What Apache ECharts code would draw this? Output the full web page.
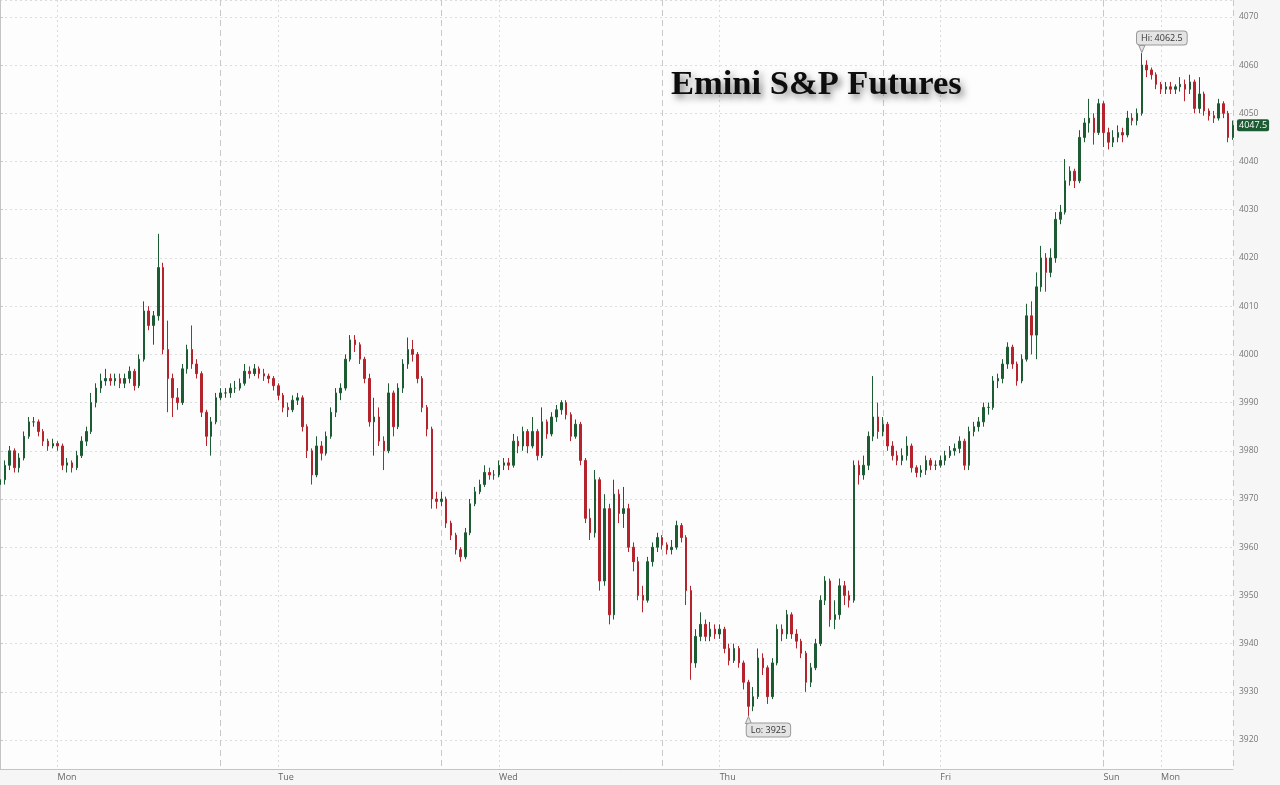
<!DOCTYPE html>
<html>
<head>
<meta charset="utf-8">
<script src="https://cdn.jsdelivr.net/npm/echarts@6/dist/echarts.min.js"></script>
<style>
html,body{margin:0;padding:0;background:#f6f6f6;}
#chart{width:1280px;height:785px;}
</style>
</head>
<body>
<div id="chart"></div>
<script>
// 30-minute candles, session starts (6pm) every 46 candles
const tickIdx = [12, 58, 104, 150, 196, 230, 242];
const tickNames = ['Mon', 'Tue', 'Wed', 'Thu', 'Fri', 'Sun', 'Mon'];
const sessionLength = 46;

const opens = [3973,
3974,3977,3980,3976.5,3978.5,3983,3986,3986,3984,3982,
3981,3981.5,3981,3977,3977.5,3976.5,3979,3982,3984,3990,
3993,3994.5,3995,3994.5,3995,3994,3995,3996.5,3993.5,3999,
4009,4006,4008,4018,4001,3995,3991,3990,3997,4001,
3998,3996,3988,3983,3986,3991,
3992,3992,3993,3993,3994,3996.5,3996,3997,3996,3995.5,
3995,3993.5,3991.5,3989,3988.5,3990.5,3991,3985,3980,3975,
3981,3979.5,3983,3988,3992,3993,3999,4003,4002,3999,
3995,3986,3987,3982,3980,3992,3985,3993,3998,4001,
4000,3995,3989,3984.5,3970,3969.5,
3970,3965,3962.5,3959.5,3958,3963,3969,3971.5,3973,3975.5,
3975,3975,3977,3977.5,3977,3982,3981,3984,3981,3984,
3979,3986,3983.5,3987,3988.5,3990,3987.5,3983,3985.5,3978,
3966,3963,3974,3953,3968,3946,3971,3967,3968,3960,
3957,3950,3949,3957,3960,3962,
3960.5,3959.5,3960,3964.5,3962,3951,3936,3941.5,3944,3941.5,
3943,3942,3943,3939,3936.5,3939,3936,3932,3927,3929,
3937,3935,3929,3936,3943,3942,3946,3942,3940.5,3938,
3932,3935,3940,3949,3953,3945,3946,3952,3950,3949,
3977,3975,3977,3983,3987,3984,
3985.5,3981,3979,3978,3979,3981,3976.5,3975.5,3976,3978,
3977,3977,3978,3979,3980,3980.5,3982,3977,3984,3985,
3986,3989,3989,3994.5,3995,3998,4001.5,3998,3994.5,3999,
4008,4004,4014,4020,4017,4020,4028,4029.5,4036,4038,
4036,4045,4048,4049,4046,4052,
4046,4044,4045,4046,4045.5,4049,4048.5,4050,4060,4059,
4058,4056,4055,4055.5,4055,4055.5,4056,4055,4056.5,4051,
4054,4050.5,4049.5,4049,4052,4050,4045];

const closes = [
3974,3977,3980,3976.5,3978.5,3983,3986,3986,3984,3982,
3981,3981.5,3981,3977,3977.5,3976.5,3979,3982,3984,3990,
3993,3994.5,3995,3994.5,3995,3994,3995,3996.5,3993.5,3999,
4009,4006,4008,4018,4001,3995,3991,3990,3997,4001,
3998,3996,3988,3983,3986,3991,
3992,3992,3993,3993,3994,3996.5,3996,3997,3996,3995.5,
3995,3993.5,3991.5,3989,3988.5,3990.5,3991,3985,3980,3975,
3981,3979.5,3983,3988,3992,3993,3999,4003,4002,3999,
3995,3986,3987,3982,3980,3992,3985,3993,3998,4001,
4000,3995,3989,3984.5,3970,3969.5,
3970,3965,3962.5,3959.5,3958,3963,3969,3971.5,3973,3975.5,
3975,3975,3977,3977.5,3977,3982,3981,3984,3981,3984,
3979,3986,3983.5,3987,3988.5,3990,3987.5,3983,3985.5,3978,
3966,3963,3974,3953,3968,3946,3971,3967,3968,3960,
3957,3950,3949,3957,3960,3962,
3960.5,3959.5,3960,3964.5,3962,3951,3936,3941.5,3944,3941.5,
3943,3942,3943,3939,3936.5,3939,3936,3932,3927,3929,
3937,3935,3929,3936,3943,3942,3946,3942,3940.5,3938,
3932,3935,3940,3949,3953,3945,3946,3952,3950,3949,
3977,3975,3977,3983,3987,3984,
3985.5,3981,3979,3978,3979,3981,3976.5,3975.5,3976,3978,
3977,3977,3978,3979,3980,3980.5,3982,3977,3984,3985,
3986,3989,3989,3994.5,3995,3998,4001.5,3998,3994.5,3999,
4008,4004,4014,4020,4017,4020,4028,4029.5,4036,4038,
4036,4045,4048,4049,4046,4052,
4046,4044,4045,4046,4045.5,4049,4048.5,4050,4060,4059,
4058,4056,4055,4055.5,4055,4055.5,4056,4055,4056.5,4051,
4054,4050.5,4049.5,4049,4052,4050,4045,4047.5];

const lows = [
3971.5,3973,3976,3975.5,3975.5,3978,3982.5,3985,3983,3981,
3980,3980.5,3980,3976,3975.5,3975.5,3976,3978.5,3981,3983.5,
3989,3992,3993.5,3993.5,3993.5,3993,3993,3994,3992.5,3993,
3998.5,4005,4002,4007,4000,3988,3987,3988.5,3989.5,3996,
3997,3995,3987,3981,3979,3985.5,
3990.5,3991,3991,3992,3992.5,3993.5,3995,3995.5,3995,3994.5,
3994,3992.5,3990.5,3988,3987,3988,3989.5,3984,3978.5,3973,
3974.5,3978,3979,3982.5,3987,3990.5,3992.5,3998.5,4000.5,3998,
3994,3985,3979,3981,3976,3979.5,3983,3984.5,3992,3997,
3998.5,3994,3988,3983,3968,3968,
3968.5,3964,3961.5,3958.5,3957,3957.5,3962.5,3968.5,3971,3972.5,
3974,3974,3974.5,3976,3976,3976.5,3979.5,3980,3979.5,3980.5,
3978,3978.5,3982.5,3983,3986,3987.5,3986.5,3982,3982.5,3977,
3965,3961.5,3962,3951,3952,3944,3945,3965,3964,3959,
3955,3949,3946.5,3948.5,3956,3959,
3959.5,3958.5,3958.5,3959.5,3961,3948,3932.5,3935,3940.5,3940.5,
3940.5,3941,3941,3938,3935.5,3936,3935,3930.5,3925,3926,
3928.5,3933.5,3927.5,3928.5,3935.5,3940.5,3941,3941,3939,3937,
3930,3931,3934.5,3939.5,3948,3943.5,3943,3945,3948,3947.5,
3948.5,3973,3974,3976,3982,3982.5,
3983,3980,3978,3977,3977,3978,3975.5,3974.5,3974.5,3975,
3976,3976,3976.5,3977,3978.5,3979,3979.5,3976,3976,3983,
3984,3985,3987.5,3988.5,3993,3994,3997,3997,3993.5,3994,
3998.5,4000,3999,4013,4013,4016,4019,4027,4029,4035,
4034.5,4035.5,4044,4046,4043.5,4045.5,
4043,4042.5,4043,4044,4044,4045,4047.5,4047.5,4049.5,4057.5,
4057,4055,4054,4054,4054,4054,4054.5,4052.5,4054,4050,
4050,4049.5,4048.5,4048,4048.5,4049,4044,4044.5];

const highs = [
3975,3978,3981,3980.5,3979.5,3984,3987,3987,3986.5,3984.5,
3982.5,3982.5,3982,3981.5,3978.5,3978,3980,3983,3985,3992,
3994,3996,3997,3996,3996,3996,3996,3997.5,3997,4000,
4011,4010,4009,4025,4019,4007,3996,3993,3998,4002,
4006,3999,3996.5,3988.5,3987,3992,
3993,3993,3994,3994.5,3995,3998,3997.5,3998,3997.5,3997,
3996,3995.5,3994,3992,3990,3991.5,3992,3991.5,3985.5,3980.5,
3983,3982,3984,3989,3993,3994,4000,4004,4004,4002.5,
3999.5,3996,3991,3989,3983,3994,3992.5,3994,3999,4003.5,
4003,4000.5,3995.5,3989.5,3985,3971.5,
3971.5,3970.5,3965.5,3963,3960,3964,3970,3972.5,3974,3977,
3976.5,3976,3978,3978.5,3978.5,3983.5,3983,3985,3984.5,3987,
3984.5,3989,3986.5,3988,3989.5,3990.5,3990.5,3988,3986.5,3986,
3978.5,3968,3976,3974.5,3971,3969,3974,3972,3972.5,3969,
3961,3958,3952,3958,3961,3963,
3962.5,3961,3961.5,3965.5,3965,3962.5,3952,3943,3946.5,3945,
3944.5,3944,3944,3943.5,3940,3940,3939.5,3936.5,3932.5,3931,
3939,3938,3935.5,3937,3944,3944,3947,3946.5,3943,3941,
3938.5,3936,3941,3950,3954,3953.5,3949,3953.5,3953,3951,
3978,3978,3979,3984,3995.5,3990,
3987,3986,3982,3980,3980.5,3983,3981.5,3977,3977,3979,
3978.5,3978,3979,3980,3981,3981.5,3983,3982.5,3985,3986,
3987,3990,3990,3995.5,3996,3999,4002.5,4002,3998.5,4000,
4010.5,4011,4017,4022.5,4021,4022,4029.5,4031,4040.5,4039,
4038.5,4046.5,4049,4053,4050,4053,
4052.5,4047,4046.5,4047.5,4047,4050.5,4050,4051,4062.5,4061,
4059.5,4058.5,4056.5,4056.5,4056.5,4056,4057.5,4057,4058,4057,
4057.5,4054.5,4051,4050.5,4053,4052.5,4050.5,4048.5];

const yMin = 3914, yMax = 4073.5;

const categories = closes.map((_, i) => String(i));
const candles = closes.map((c, i) => [opens[i], c, lows[i], highs[i]]);
const lastClose = closes[closes.length - 1];

const UP = '#1d5c33', DOWN = '#b5242c';
const labelFont = 'Open Sans';

const chart = echarts.init(document.getElementById('chart'), null, {renderer: 'canvas'});
chart.setOption({
  animation: false,
  backgroundColor: '#f6f6f6',
  title: {
    text: 'Emini S&P Futures',
    left: 666, top: 63,
    textStyle: {
      fontFamily: 'Liberation Serif', fontWeight: 'bold', fontSize: 34.5, color: '#0d0d0d',
      textShadowColor: 'rgba(0,0,0,0.5)', textShadowBlur: 7, textShadowOffsetX: 3, textShadowOffsetY: 4
    }
  },
  grid: {left: -3, right: 47, top: 0, bottom: 16, show: true, backgroundColor: '#fdfdfd', borderWidth: 0},
  xAxis: [{
    type: 'category', data: categories, boundaryGap: false,
    axisLine: {show: true, lineStyle: {color: '#c4c4c4'}},
    axisTick: {show: false},
    axisLabel: {
      interval: (i) => tickIdx.indexOf(i) >= 0,
      formatter: (v, i) => { const k = tickIdx.indexOf(Number(v)); return k >= 0 ? tickNames[k] : ''; },
      align: 'left', color: '#666', fontFamily: labelFont, fontSize: 9, margin: 4
    },
    splitLine: {show: true, interval: (i) => tickIdx.indexOf(i) >= 0,
      lineStyle: {color: '#dadada', type: [2, 3], width: 1}}
  }, {
    type: 'value', min: 0, max: closes.length - 1, interval: sessionLength, position: 'top',
    axisLine: {show: false}, axisTick: {show: false}, axisLabel: {show: false},
    splitLine: {show: true, lineStyle: {color: '#c8c8c8', type: [6, 4], width: 1}}
  }],
  yAxis: {
    type: 'value', position: 'right', min: yMin, max: yMax, splitNumber: 16, offset: 3, scale: true,
    axisLine: {show: true, lineStyle: {color: '#c4c4c4'}},
    axisTick: {show: true, length: 3, inside: false, lineStyle: {color: '#c4c4c4'}},
    axisLabel: {color: '#777', fontFamily: labelFont, fontSize: 8.5, margin: 3,
      showMinLabel: false, showMaxLabel: false, formatter: (v) => String(v)},
    splitLine: {show: true, lineStyle: {color: '#dcdcdc', type: [2, 3], width: 1}}
  },
  series: [{
    type: 'candlestick', xAxisIndex: 0, yAxisIndex: 0,
    data: candles, barWidth: 2,
    itemStyle: {color: UP, color0: DOWN, borderColor: UP, borderColor0: DOWN, borderWidth: 1},
    markPoint: {
      symbol: 'triangle', symbolSize: [6, 7], symbolRotate: 180,
      itemStyle: {color: '#e4e4e4', borderColor: '#9a9a9a', borderWidth: 1},
      data: [
        {type: 'max', valueDim: 'highest', symbolOffset: [0, -4],
         label: {show: true, position: 'inside', offset: [20, -11],
           formatter: (p) => 'Hi: ' + p.value}},
        {type: 'min', valueDim: 'lowest', symbolRotate: 0, symbolOffset: [0, 4],
         label: {show: true, position: 'inside', offset: [20, 10],
           formatter: (p) => 'Lo: ' + p.value}}
      ],
      label: {color: '#333', fontFamily: labelFont, fontSize: 9, backgroundColor: '#e4e4e4',
        borderColor: '#9a9a9a', borderWidth: 1, borderRadius: 3, padding: [2, 4, 2, 4]}
    },
    markLine: {
      symbol: 'none', silent: true,
      lineStyle: {width: 0, color: 'rgba(0,0,0,0)'},
      data: [{yAxis: lastClose}],
      label: {show: true, position: 'end', distance: 4, formatter: () => String(lastClose),
        color: '#fff', backgroundColor: '#1d5c33', padding: [2, 2, 1, 2], borderRadius: 2,
        fontFamily: labelFont, fontSize: 9}
    }
  }]
});
</script>
</body>
</html>
